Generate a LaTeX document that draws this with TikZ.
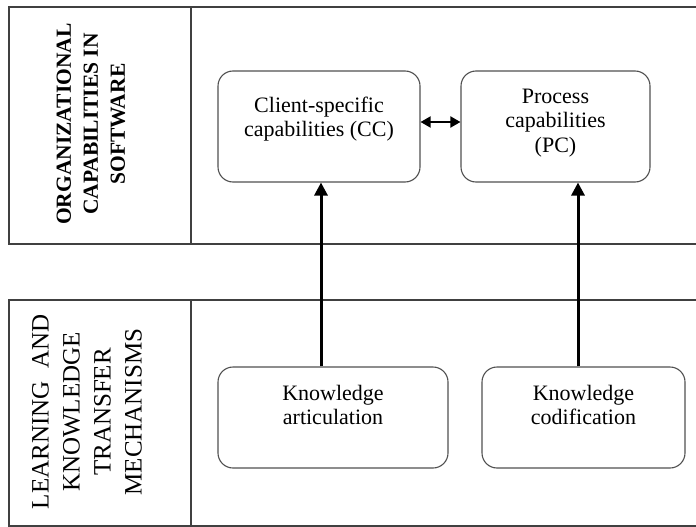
\documentclass[tikz,border=0pt]{standalone}
\usepackage{fontspec}
\setmainfont{Liberation Serif}
\usetikzlibrary{arrows.meta}
\definecolor{framec}{HTML}{404040}
\definecolor{boxc}{HTML}{505050}
\tikzset{
  frameline/.style={draw=framec, line width=1.1pt},
  capbox/.style={draw=boxc, line width=1.1pt, rounded corners=15pt, rectangle, inner sep=0pt},
  boxtext/.style={anchor=base, inner sep=0pt, font=\fontsize{22}{24.5}\selectfont},
  uparrow/.style={line width=3pt, -{Triangle[length=13pt,width=13pt]}},
  biarrow/.style={line width=1.8pt, {Triangle[length=10pt,width=11pt]}-{Triangle[length=10pt,width=11pt]}},
}
\newcommand{\mylines}[2]{\parbox[t]{#1}{\centering #2}}
\begin{document}
\begin{tikzpicture}[x=1pt,y=-1pt]
\useasboundingbox (0,0) rectangle (696,527);
% frames
\draw[frameline] (697,7) -- (9,7) -- (9,244) -- (697,244);
\draw[frameline] (191,7) -- (191,244);
\draw[frameline] (697,300) -- (9,300) -- (9,526) -- (697,526);
\draw[frameline] (191,300) -- (191,526);
% side labels
\node[rotate=90, align=center, inner sep=0pt, font=\bfseries\fontsize{21.5}{27}\selectfont] (orglabel) at (91,124)
  {ORGANIZATIONAL\\CAPABILITIES IN\\SOFTWARE};
\node[rotate=90, align=center, inner sep=0pt, font=\fontsize{25}{31}\selectfont] (learnlabel) at (87,412)
  {LEARNING\hspace{0.5em}AND\\KNOWLEDGE\\TRANSFER\\MECHANISMS};
% boxes
\node[capbox, minimum width=202pt, minimum height=111pt] (cc) at (319,126.5) {};
\node[capbox, minimum width=189pt, minimum height=111pt] (pc) at (555.5,126.5) {};
\node[capbox, minimum width=230pt, minimum height=101pt] (ka) at (333,417.5) {};
\node[capbox, minimum width=203pt, minimum height=101pt] (kc) at (583.5,417.5) {};
% texts
\node[boxtext] (cctext) at (319,112) {\mylines{200pt}{Client-specific\\capabilities (CC)}};
\node[boxtext] (pctext) at (555.5,103) {\mylines{185pt}{Process\\capabilities\\(PC)}};
\node[boxtext] (katext) at (333,400) {\mylines{220pt}{Knowledge\\articulation}};
\node[boxtext] (kctext) at (583.5,400) {\mylines{200pt}{Knowledge\\codification}};
% connectors
\draw[uparrow] (ka.north -| 321,0) -- (cc.south -| 321,0);
\draw[uparrow] (kc.north -| 578,0) -- (pc.south -| 578,0);
\draw[biarrow] (cc.east |- 0,122) -- (pc.west |- 0,122);
\end{tikzpicture}
\end{document}
